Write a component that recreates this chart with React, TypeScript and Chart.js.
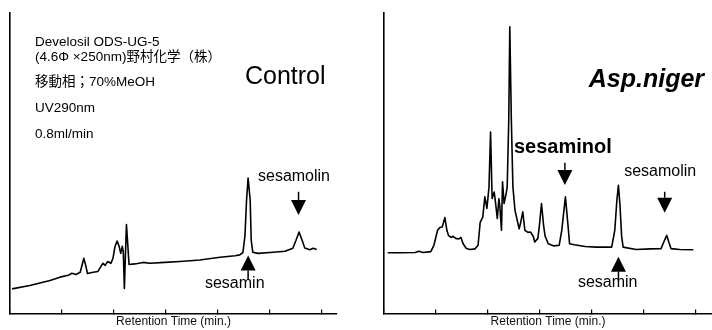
import React, { useEffect, useRef } from "react";
import { Chart, registerables } from "chart.js";

Chart.register(...registerables);

// ---------- DATA ----------
// Control chromatogram (retention time in min, detector signal in arbitrary units 0-100)
const controlTime = [0.04, 0.38, 0.77, 0.96, 1.12, 1.19, 1.27, 1.35, 1.38, 1.42, 1.46, 1.49, 1.6, 1.69, 1.75, 1.79, 1.83, 1.88, 1.94, 1.98, 2.02, 2.06, 2.1, 2.13, 2.16, 2.18, 2.2, 2.22, 2.24, 2.26, 2.29, 2.4, 2.56, 2.69, 2.98, 3.27, 3.65, 4.04, 4.33, 4.42, 4.48, 4.52, 4.55, 4.58, 4.62, 4.64, 4.67, 4.77, 5, 5.29, 5.44, 5.5, 5.56, 5.62, 5.67, 5.77, 5.83, 5.9];
const controlSignal = [8.2, 9.3, 11, 12.1, 12.7, 13.4, 13, 13.7, 15.7, 18.4, 15.7, 13.3, 13.7, 14, 15.7, 16.7, 16, 17.3, 16.7, 18.3, 22.3, 24.1, 22.3, 20, 22.4, 20.3, 8.3, 19.3, 29.6, 24.3, 16.3, 16.5, 17, 16.7, 17, 17.3, 17.8, 18.7, 19.2, 19.5, 20.3, 26, 37.7, 45.1, 37.7, 24.3, 20.4, 20, 20.3, 20.7, 21.7, 24.3, 27.1, 24.3, 21.8, 21.2, 21.7, 21.3];

// Asp.niger chromatogram
const aspTime = [0.07, 0.31, 0.6, 0.67, 0.75, 0.9, 0.96, 1.03, 1.08, 1.12, 1.14, 1.17, 1.21, 1.24, 1.29, 1.33, 1.38, 1.44, 1.48, 1.52, 1.58, 1.65, 1.75, 1.81, 1.85, 1.9, 1.94, 1.98, 2.02, 2.05, 2.08, 2.12, 2.14, 2.18, 2.21, 2.23, 2.26, 2.28, 2.31, 2.35, 2.37, 2.4, 2.42, 2.45, 2.48, 2.52, 2.6, 2.63, 2.67, 2.71, 2.77, 2.82, 2.87, 2.9, 2.96, 2.99, 3.03, 3.07, 3.1, 3.16, 3.27, 3.37, 3.42, 3.49, 3.54, 3.57, 3.66, 3.87, 4.08, 4.38, 4.44, 4.48, 4.51, 4.54, 4.57, 4.6, 4.85, 5.12, 5.33, 5.38, 5.44, 5.48, 5.52, 5.69, 5.95];
const aspSignal = [20.2, 20.2, 20.3, 20.7, 20.3, 20.6, 22.7, 27.7, 28.7, 28.8, 30, 31.9, 27.7, 26, 25.3, 25.7, 25, 24.8, 25.3, 23.3, 21.7, 21.3, 21.5, 22.7, 30.3, 32.1, 38.8, 35, 42.1, 60.4, 38.3, 40.4, 37.7, 31.6, 38.2, 35.4, 27.7, 43.8, 36.6, 39.9, 42.1, 64.3, 95.4, 64.3, 42.1, 34.3, 28.2, 30.3, 33.8, 27.7, 27, 27.1, 25.7, 23.8, 25, 29.3, 36.6, 29.3, 25.7, 23.2, 22.5, 22.7, 27.7, 38.8, 29.3, 23.2, 22.9, 22.3, 22.1, 22.1, 27.7, 37.7, 42.7, 36, 26, 22.1, 21.3, 21.5, 21.6, 23.7, 26, 23.7, 21.6, 21.3, 21.2];

const xAxisTitle = "Retention Time (min.)";
const tickStep = 1;
const yMax = 100;

// Condition notes (left panel), anchored in data coordinates
const infoLines = ["Develosil ODS-UG-5", "(4.6Φ ×250nm)野村化学（株）", "移動相；70%MeOH", "UV290nm", "0.8ml/min"];
const infoLineX = [0.48, 0.48, 0.48, 0.48, 0.48];
const infoLineY = [90.2, 85.2, 76.8, 68.2, 59.5];

// Panel titles
const panelTitles = ["Control", "Asp.niger"];
const panelTitleX = [4.52, 3.94];
const panelTitleY = [78.5, 77.8];

// Peak labels
const controlPeakLabels = ["sesamolin", "sesamin"];
const controlPeakLabelX = [4.77, 3.75];
const controlPeakLabelY = [45.5, 9.8];
const aspPeakLabels = ["sesaminol", "sesamolin", "sesamin"];
const aspPeakLabelX = [2.5, 4.62, 3.73];
const aspPeakLabelY = [55.2, 47.2, 10.2];

// Arrows: x position, tail value, tip value
const controlArrowX = [5.55, 4.58];
const controlArrowTail = [40.5, 11.2];
const controlArrowTip = [32.8, 19.3];
const aspArrowX = [3.48, 5.4, 4.51];
const aspArrowTail = [50.2, 40.5, 11.2];
const aspArrowTip = [42.8, 33.5, 18.9];

// ---------- RENDERING ----------
const SANS = '"Liberation Sans", Arial, "Noto Sans CJK JP", sans-serif';

type Label = { text: string; x: number; y: number; font: string };
type Arrow = { x: number; tail: number; tip: number };

function annotationPlugin(labels: Label[], arrows: Arrow[]) {
  return {
    id: "annotations",
    afterDatasetsDraw(chart: any) {
      const { ctx, scales } = chart;
      const xs = scales.x;
      const ys = scales.y;
      ctx.save();
      ctx.fillStyle = "#000";
      ctx.strokeStyle = "#000";
      ctx.textBaseline = "middle";
      ctx.textAlign = "left";
      for (const l of labels) {
        ctx.font = l.font;
        ctx.fillText(l.text, xs.getPixelForValue(l.x), ys.getPixelForValue(l.y));
      }
      for (const a of arrows) {
        const px = xs.getPixelForValue(a.x);
        const pTail = ys.getPixelForValue(a.tail);
        const pTip = ys.getPixelForValue(a.tip);
        const dir = pTip > pTail ? 1 : -1;
        const head = 15;
        const half = 7.5;
        const base = pTip - dir * head;
        ctx.lineWidth = 1.5;
        ctx.beginPath();
        ctx.moveTo(px, pTail);
        ctx.lineTo(px, base);
        ctx.stroke();
        ctx.beginPath();
        ctx.moveTo(px, pTip);
        ctx.lineTo(px - half, base);
        ctx.lineTo(px + half, base);
        ctx.closePath();
        ctx.fill();
      }
      ctx.restore();
    },
  };
}

type PanelProps = {
  left: number;
  time: number[];
  signal: number[];
  xMax: number;
  padding: { left: number; right: number; top: number; bottom: number };
  labels: Label[];
  arrows: Arrow[];
};

function Panel({ left, time, signal, xMax, padding, labels, arrows }: PanelProps) {
  const ref = useRef<HTMLCanvasElement | null>(null);
  useEffect(() => {
    if (!ref.current) return;
    const chart = new Chart(ref.current, {
      type: "line",
      data: {
        datasets: [
          {
            data: time.map((t, i) => ({ x: t, y: signal[i] })),
            borderColor: "#000",
            borderWidth: 1.6,
            pointRadius: 0,
            tension: 0,
            fill: false,
            borderJoinStyle: "round",
          },
        ],
      },
      options: {
        responsive: false,
        animation: false,
        devicePixelRatio: 1,
        layout: { padding },
        plugins: { legend: { display: false }, tooltip: { enabled: false } },
        scales: {
          x: {
            type: "linear",
            min: 0,
            max: xMax,
            afterFit: (s: any) => {
              s.height = 16.5;
            },
            ticks: { display: false, stepSize: tickStep, includeBounds: false },
            grid: { drawOnChartArea: false, drawTicks: true, tickLength: -4, color: "#000", lineWidth: 1.2 },
            border: { display: true, color: "#000", width: 1.6 },
            title: {
              display: true,
              text: xAxisTitle,
              color: "#111",
              font: { family: SANS, size: 12 },
              padding: { top: 0, bottom: 1 },
            },
          },
          y: {
            min: 0,
            max: yMax,
            afterFit: (s: any) => {
              s.width = 0;
            },
            ticks: { display: false },
            grid: { display: false, drawTicks: false },
            border: { display: true, color: "#000", width: 1.6 },
          },
        },
      } as any,
      plugins: [annotationPlugin(labels, arrows)],
    });
    return () => chart.destroy();
  }, []);
  return (
    <canvas
      ref={ref}
      width={356}
      height={330}
      style={{ position: "absolute", left, top: 0, width: 356, height: 330 }}
    />
  );
}

export default function App() {
  const infoFont = `13.5px ${SANS}`;
  const peakFont = `16px ${SANS}`;

  const controlLabels: Label[] = [
    ...infoLines.map((t, i) => ({ text: t, x: infoLineX[i], y: infoLineY[i], font: infoFont })),
    { text: panelTitles[0], x: panelTitleX[0], y: panelTitleY[0], font: `25px ${SANS}` },
    ...controlPeakLabels.map((t, i) => ({ text: t, x: controlPeakLabelX[i], y: controlPeakLabelY[i], font: peakFont })),
  ];
  const controlArrows: Arrow[] = controlArrowX.map((x, i) => ({ x, tail: controlArrowTail[i], tip: controlArrowTip[i] }));

  const aspLabels: Label[] = [
    { text: panelTitles[1], x: panelTitleX[1], y: panelTitleY[1], font: `italic bold 25px ${SANS}` },
    ...aspPeakLabels.map((t, i) => ({
      text: t,
      x: aspPeakLabelX[i],
      y: aspPeakLabelY[i],
      font: t === "sesaminol" ? `bold 20px ${SANS}` : peakFont,
    })),
  ];
  const aspArrows: Arrow[] = aspArrowX.map((x, i) => ({ x, tail: aspArrowTail[i], tip: aspArrowTip[i] }));

  return (
    <div style={{ position: "absolute", left: 0, top: 0, width: 712, height: 330, background: "#fff", overflow: "hidden" }}>
      <Panel
        left={0}
        time={controlTime}
        signal={controlSignal}
        xMax={6.29}
        padding={{ left: 10, right: 19, top: 13, bottom: 0 }}
        labels={controlLabels}
        arrows={controlArrows}
      />
      <Panel
        left={356}
        time={aspTime}
        signal={aspSignal}
        xMax={6.31}
        padding={{ left: 28, right: 0, top: 13, bottom: 0 }}
        labels={aspLabels}
        arrows={aspArrows}
      />
    </div>
  );
}
